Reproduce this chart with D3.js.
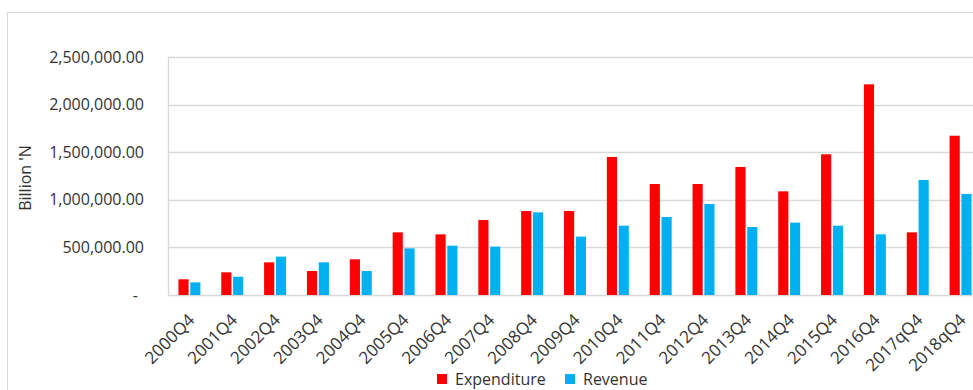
<!DOCTYPE html>
<html>
<head>
<meta charset="utf-8">
<script src="https://cdn.jsdelivr.net/npm/d3@7"></script>
<style>
  html, body { margin: 0; padding: 0; background: #fff; overflow: hidden; }
  svg { display: block; font-family: "Open Sans", "Liberation Sans", sans-serif; }
</style>
</head>
<body>
<svg id="chart" width="973" height="390"></svg>
<script>
// Quarterly government expenditure and revenue (Billion 'N)
const categories = ["2000Q4","2001Q4","2002Q4","2003Q4","2004Q4","2005Q4","2006Q4","2007Q4","2008Q4","2009Q4",
                    "2010Q4","2011Q4","2012Q4","2013Q4","2014Q4","2015Q4","2016Q4","2017qQ4","2018qQ4"];
const expenditure = [165000, 238000, 343000, 252000, 375000, 658000, 637000, 788000, 882000, 882000,
                     1450000, 1166000, 1166000, 1345000, 1089000, 1478000, 2213000, 658000, 1673000];
const revenue = [133000, 192000, 403000, 343000, 252000, 490000, 518000, 508000, 868000, 613000,
                 728000, 819000, 956000, 714000, 760000, 728000, 637000, 1208000, 1061000];
const seriesNames = ["Expenditure", "Revenue"];
const seriesColors = ["#FF0000", "#00B0F0"];
const yTicks = [0, 500000, 1000000, 1500000, 2000000, 2500000];

const svg = d3.select("#chart");
const plot = { left: 168, top: 57, right: 982, bottom: 295 };
const textColor = "#333333";
const gridColor = "#d9d9d9";

// outer chart frame
svg.append("rect")
  .attr("x", 7.5).attr("y", 12.5)
  .attr("width", 1100).attr("height", 500)
  .attr("fill", "none").attr("stroke", gridColor).attr("stroke-width", 1);

const x = d3.scaleBand().domain(categories).range([plot.left, plot.right])
  .paddingInner(0.487).paddingOuter(0.2435);
const xs = d3.scaleBand().domain(seriesNames).range([0, x.bandwidth()]).paddingInner(0.14);
const y = d3.scaleLinear().domain([0, 2500000]).range([plot.bottom, plot.top]);

// horizontal gridlines
svg.append("g").selectAll("line").data(yTicks).join("line")
  .attr("x1", plot.left).attr("x2", plot.right + 20)
  .attr("y1", d => Math.round(y(d)) + 0.5).attr("y2", d => Math.round(y(d)) + 0.5)
  .attr("stroke", gridColor).attr("stroke-width", 1.3);

// plot-area left edge
svg.append("line")
  .attr("x1", plot.left + 0.5).attr("x2", plot.left + 0.5)
  .attr("y1", Math.round(y(2500000)) + 0.5).attr("y2", Math.round(y(0)) + 0.5)
  .attr("stroke", gridColor).attr("stroke-width", 1.3);

// y tick labels (accounting style: zero shown as a dash)
const fmt = d3.format(",.2f");
svg.append("g").selectAll("text").data(yTicks).join("text")
  .attr("x", d => d === 0 ? 138 : 144)
  .attr("y", d => y(d))
  .attr("dy", "0.35em")
  .attr("text-anchor", "end")
  .attr("fill", textColor)
  .attr("font-size", 16)
  .text(d => d === 0 ? "-" : fmt(d));

// y axis title
svg.append("text")
  .attr("transform", "translate(31,178) rotate(-90)")
  .attr("text-anchor", "middle")
  .attr("fill", textColor)
  .attr("font-size", 16)
  .text("Billion 'N");

// bars
const values = [expenditure, revenue];
seriesNames.forEach((name, si) => {
  svg.append("g").selectAll("rect").data(categories).join("rect")
    .attr("x", c => x(c) + xs(name))
    .attr("width", xs.bandwidth())
    .attr("y", (c, i) => y(values[si][i]))
    .attr("height", (c, i) => y(0) - y(values[si][i]))
    .attr("fill", seriesColors[si]);
});

// x category labels, rotated
svg.append("g").selectAll("text").data(categories).join("text")
  .attr("transform", c => `translate(${x(c) + x.bandwidth() / 2 + 2},${plot.bottom + 22}) rotate(-45)`)
  .attr("text-anchor", "end")
  .attr("dy", "0.35em")
  .attr("fill", textColor)
  .attr("font-size", 17)
  .text(c => c);

// legend
const legend = svg.append("g");
const legendItems = [{ name: "Expenditure", x: 437 }, { name: "Revenue", x: 565 }];
legendItems.forEach((item, i) => {
  legend.append("rect")
    .attr("x", item.x).attr("y", 374)
    .attr("width", 10).attr("height", 10)
    .attr("fill", seriesColors[i]);
  legend.append("text")
    .attr("x", item.x + 18).attr("y", 379)
    .attr("dy", "0.35em")
    .attr("fill", textColor)
    .attr("font-size", 16)
    .text(item.name);
});
</script>
</body>
</html>
